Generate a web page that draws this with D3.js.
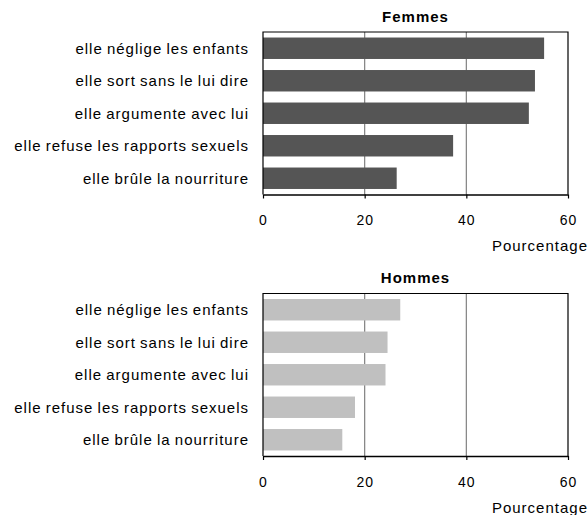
<!DOCTYPE html>
<html>
<head>
<meta charset="utf-8">
<script src="https://cdn.jsdelivr.net/npm/d3@7"></script>
<style>
  body { margin: 0; background: #fff; }
  svg text { font-family: "Liberation Sans", Arial, sans-serif; fill: #000; }
</style>
</head>
<body>
<div id="chart"></div>
<script>
// categories, top to bottom
const categories = [
  "elle néglige les enfants",
  "elle sort sans le lui dire",
  "elle argumente avec lui",
  "elle refuse les rapports sexuels",
  "elle brûle la nourriture"
];
const femmes = [55.3, 53.5, 52.3, 37.4, 26.3];
const hommes = [27.0, 24.5, 24.1, 18.1, 15.6];
const ticks = [0, 20, 40, 60];

const svg = d3.select('#chart').append('svg')
  .attr('width', 588)
  .attr('height', 515);

function panel(title, values, color, top) {
  let left = 263, right = 568;
  let plotTop = top, plotBottom = top + 162.5;

  let x = d3.scaleLinear().domain([0, 60]).range([left, right]);
  let y = d3.scaleBand().domain(categories).range([plotTop, plotBottom]).paddingInner(0.34).paddingOuter(0.17);

  let g = svg.append('g');

  // gridlines
  g.selectAll('.grid').data(ticks.slice(1, -1)).enter().append('line')
    .attr('x1', d => x(d)).attr('x2', d => x(d))
    .attr('y1', plotTop).attr('y2', plotBottom)
    .attr('stroke', '#808080').attr('stroke-width', 1.2);

  // bars
  g.selectAll('.bar').data(values).enter().append('rect')
    .attr('x', x(0))
    .attr('y', (d, i) => y(categories[i]))
    .attr('width', d => x(d) - x(0))
    .attr('height', y.bandwidth())
    .attr('fill', color);

  // frame: left, top, right
  g.append('path')
    .attr('d', `M${left},${plotBottom} V${plotTop} H${right} V${plotBottom}`)
    .attr('fill', 'none').attr('stroke', '#000').attr('stroke-width', 1.2);

  // x axis
  let xAxis = g.append('g')
    .attr('transform', `translate(0,${plotBottom})`)
    .call(d3.axisBottom(x).tickValues(ticks).tickSize(4).tickSizeOuter(0).tickPadding(17));
  xAxis.select('.domain').attr('stroke', '#000').attr('stroke-width', 1.5);
  xAxis.selectAll('line').attr('stroke', '#000').attr('stroke-width', 1.2);
  xAxis.selectAll('text')
    .attr('font-size', 14)
    .attr('letter-spacing', 1)
    .attr('font-family', '"Liberation Sans", Arial, sans-serif');

  // category labels
  g.selectAll('.lab').data(categories).enter().append('text')
    .attr('x', 249)
    .attr('y', d => y(d) + y.bandwidth() / 2)
    .attr('dy', '0.35em')
    .attr('text-anchor', 'end')
    .attr('font-size', 15)
    .attr('letter-spacing', 1)
    .attr('word-spacing', -1)
    .text(d => d);

  g.append('text')
    .attr('x', (left + right) / 2)
    .attr('y', top - 10.5)
    .attr('text-anchor', 'middle')
    .attr('font-size', 15)
    .attr('letter-spacing', 1)
    .attr('font-weight', 'bold')
    .text(title);

  g.append('text')
    .attr('x', 588)
    .attr('y', plotBottom + 56.5)
    .attr('text-anchor', 'end')
    .attr('font-size', 15)
    .attr('letter-spacing', 1)
    .text('Pourcentage');
}

panel('Femmes', femmes, '#555555', 32);
panel('Hommes', hommes, '#c0c0c0', 293.5);
</script>
</body>
</html>
